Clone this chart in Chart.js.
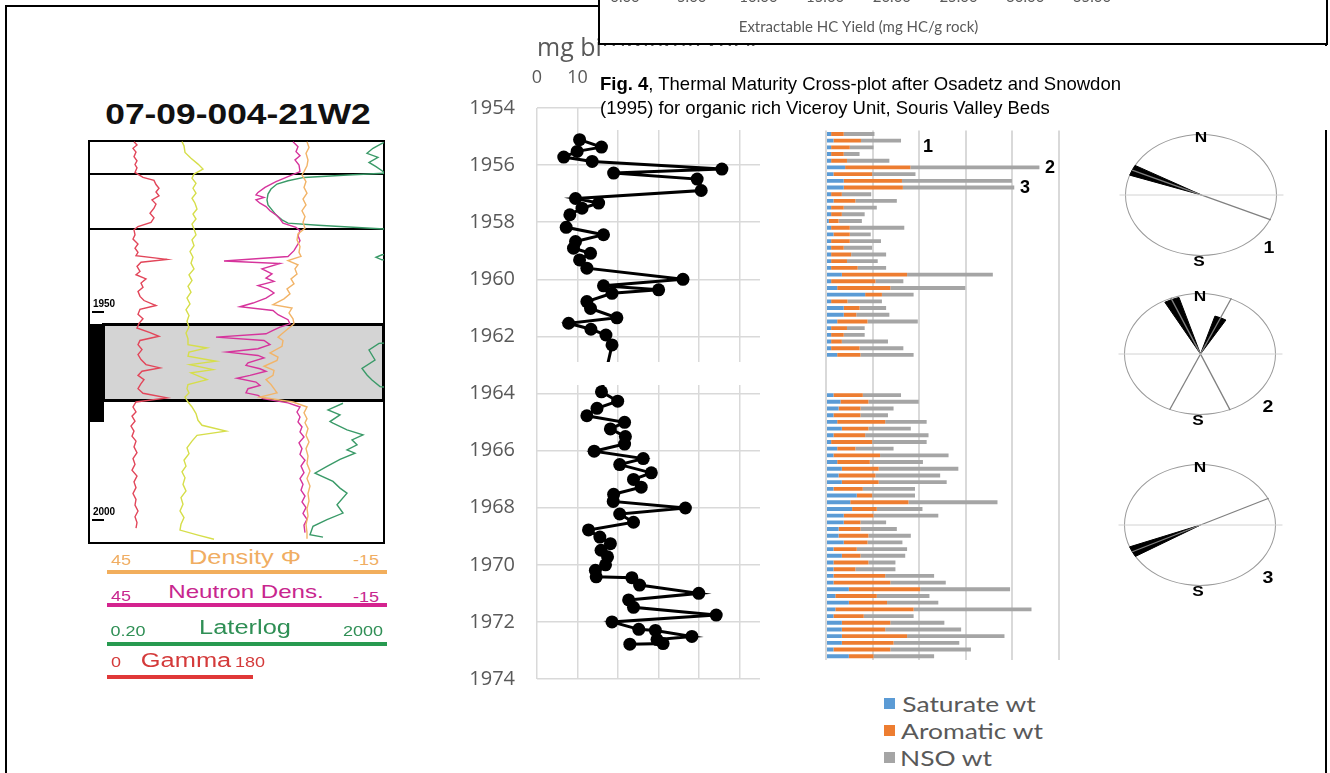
<!DOCTYPE html>
<html><head><meta charset="utf-8"><title>Viceroy Unit composite</title>
<script src="https://cdn.jsdelivr.net/npm/chart.js@4.4.1/dist/chart.umd.min.js"></script>
<style>
html,body{margin:0;padding:0;background:#fff;}
body{width:1330px;height:773px;overflow:hidden;position:relative;font-family:"Liberation Sans",Arial,sans-serif;}
.a{position:absolute;}
.t{position:absolute;white-space:nowrap;line-height:1;transform:translate(-50%,-50%) scaleX(var(--sx,1));}
canvas{position:absolute;display:block;}
</style></head>
<body>
<!-- outer frame -->
<div class="a" style="left:5px;top:5px;width:1322px;height:820px;border:2px solid #000;box-sizing:border-box;"></div>

<!-- well log panel -->
<div class="t" style="left:238px;top:114px;font-weight:bold;font-size:29px;--sx:1.22;color:#111">07-09-004-21W2</div>
<div class="a" style="left:88px;top:140px;width:297px;height:404px;border:2px solid #000;box-sizing:border-box;"></div>
<div class="a" style="left:88px;top:173px;width:297px;height:1.5px;background:#000"></div>
<div class="a" style="left:88px;top:228px;width:297px;height:1.5px;background:#000"></div>
<div class="a" style="left:102px;top:323px;width:283px;height:79px;background:#d4d4d4;border:3px solid #000;box-sizing:border-box;"></div>
<div class="a" style="left:88px;top:324px;width:16px;height:98px;background:#000"></div>
<canvas id="logc" width="296" height="403" style="left:88px;top:140px"></canvas>
<div class="t" style="left:104px;top:304px;font-size:10px;font-weight:bold">1950</div>
<div class="a" style="left:92px;top:311px;width:12px;height:1.5px;background:#000"></div>
<div class="t" style="left:104px;top:512px;font-size:10px;font-weight:bold">2000</div>
<div class="a" style="left:92px;top:519px;width:12px;height:1.5px;background:#000"></div>

<!-- log legend -->
<div class="t" style="left:121px;top:559px;font-size:15px;--sx:1.2;color:#f0ad62">45</div>
<div class="t" style="left:245px;top:557px;font-size:20px;--sx:1.27;color:#f0ad62">Density Φ</div>
<div class="t" style="left:366px;top:559px;font-size:15px;--sx:1.2;color:#f0ad62">-15</div>
<div class="a" style="left:107px;top:570px;width:280px;height:4px;background:#f2ae5c"></div>
<div class="t" style="left:121px;top:595px;font-size:15px;--sx:1.2;color:#c8268e">45</div>
<div class="t" style="left:246px;top:591px;font-size:19px;--sx:1.27;color:#c8268e">Neutron Dens.</div>
<div class="t" style="left:366px;top:596px;font-size:15px;--sx:1.2;color:#c8268e">-15</div>
<div class="a" style="left:107px;top:603px;width:280px;height:4px;background:#d4238f"></div>
<div class="t" style="left:128px;top:630px;font-size:15px;--sx:1.2;color:#2f8f55">0.20</div>
<div class="t" style="left:245px;top:627px;font-size:20px;--sx:1.27;color:#2f8f55">Laterlog</div>
<div class="t" style="left:363px;top:630px;font-size:15px;--sx:1.2;color:#2f8f55">2000</div>
<div class="a" style="left:107px;top:642px;width:280px;height:4px;background:#279a50"></div>
<div class="t" style="left:116px;top:661px;font-size:15px;--sx:1.2;color:#d43a3a">0</div>
<div class="t" style="left:186px;top:660px;font-size:20px;--sx:1.27;color:#d43a3a">Gamma</div>
<div class="t" style="left:250px;top:661px;font-size:15px;--sx:1.2;color:#d43a3a">180</div>
<div class="a" style="left:107px;top:675px;width:146px;height:4px;background:#e03838"></div>

<!-- bitumen scatter -->
<canvas id="bitc" width="340" height="683" style="left:440px;top:30px"></canvas>
<div class="a" style="left:539px;top:362px;width:232px;height:23px;background:#fff"></div>

<!-- SARA bars -->
<canvas id="barc" width="255" height="550" style="left:816px;top:120px"></canvas>
<div class="t" style="left:928px;top:146px;font-size:18px;font-weight:bold">1</div>
<div class="t" style="left:1050px;top:167px;font-size:18px;font-weight:bold">2</div>
<div class="t" style="left:1025px;top:187px;font-size:18px;font-weight:bold">3</div>
<div class="a" style="left:884px;top:698px;width:11px;height:11px;background:#5b9bd5"></div>
<div class="t" style="left:969px;top:704px;font-family:Lato;font-size:22px;--sx:1.2;color:#595959">Saturate wt</div>
<div class="a" style="left:884px;top:725px;width:11px;height:11px;background:#ed7d31"></div>
<div class="t" style="left:972px;top:731px;font-family:Lato;font-size:22px;--sx:1.2;color:#595959">Aromatic wt</div>
<div class="a" style="left:884px;top:752px;width:11px;height:11px;background:#a5a5a5"></div>
<div class="t" style="left:946px;top:758px;font-family:Lato;font-size:22px;--sx:1.2;color:#595959">NSO wt</div>

<!-- rose diagrams -->
<div id="roses"></div>

<!-- caption -->
<div class="a" style="left:603px;top:46px;width:727px;height:84px;background:#fff"></div>
<div class="a" style="left:600px;top:72px;font-size:18.5px;line-height:24px;color:#000;white-space:nowrap"><b>Fig. 4</b>, Thermal Maturity Cross-plot after Osadetz and Snowdon<br>(1995) for organic rich Viceroy Unit, Souris Valley Beds</div>

<!-- top-right cropped chart box -->
<div class="a" style="left:598px;top:-20px;width:730px;height:65px;border:2px solid #000;box-sizing:border-box;background:#fff"></div>
<canvas id="hcc" width="726" height="243" style="left:600px;top:-200px"></canvas>

<script>
// ================= DATA =================
// mg bitumen / g rock versus depth (m)
const bitumenDepth = [1955.11,1955.37,1955.52,1955.72,1955.87,1956.14,1956.28,1956.49,1956.89,1957.17,1957.33,1957.51,1957.74,1958.18,1958.44,1958.68,1958.91,1959.09,1959.32,1959.61,1960.00,1960.23,1960.37,1960.49,1960.78,1961.02,1961.35,1961.54,1961.75,1961.95,1962.30,
  1963.94,1964.27,1964.52,1964.78,1965.01,1965.24,1965.51,1965.77,1966.02,1966.28,1966.49,1966.78,1967.01,1967.28,1967.53,1967.78,1968.01,1968.22,1968.51,1968.78,1969.03,1969.26,1969.49,1969.72,1970.00,1970.19,1970.42,1970.45,1970.71,1971.00,1971.23,1971.49,1971.76,1972.00,1972.26,1972.30,1972.51,1972.62,1972.76,1972.78];
const bitumenMg = [10.5,15.9,9.9,6.6,13.6,45.6,18.9,39.5,40.5,9.5,15.2,11.1,8.1,7.2,16.4,9.5,9.0,13.2,10.5,12.3,36.0,16.4,30.0,18.5,12.3,13.2,19.7,7.8,13.3,17.0,18.5,
  15.9,19.9,14.8,12.3,21.6,18.1,21.8,21.6,14.1,26.2,20.4,28.2,23.8,25.7,18.9,18.8,36.6,20.4,23.8,12.7,15.5,18.1,15.8,17.4,16.9,14.4,14.6,23.4,25.3,39.9,22.6,23.8,44.2,18.5,25.1,29.2,38.2,29.6,31.1,22.9];
const depthTicks = [1954,1956,1958,1960,1962,1964,1966,1968,1970,1972,1974];
const mgTicks = [0,10,20,30,40,50];

// SARA fractions per sample (null = no sample)
const saturateWt = [1.1,1.6,1.1,1.1,1.1,4.1,1.6,3.8,3.8,1.1,1.6,1.1,1.1,0.6,1.1,1.6,1.1,1.1,1.1,1.1,1.1,3.4,1.1,2.4,8.4,1.1,3.8,3.8,2.4,1.1,1.1,1.1,1.1,2.4,
  null,null,null,null,null,
  1.6,3.1,2.7,1.6,2.4,3.4,1.6,1.1,2.4,1.6,2.4,3.4,2.7,3.4,1.6,6.6,5.2,5.6,3.8,3.8,2.7,2.7,3.8,1.6,3.4,1.6,1.6,1.6,1.6,4.9,2.0,4.9,2.0,1.6,3.4,3.4,3.4,3.4,1.6,4.9];
const aromaticWt = [2.7,5.9,4.0,2.7,3.4,14.0,8.3,12.5,12.7,2.3,4.7,2.7,2.3,2.1,4.0,3.5,4.0,2.7,4.3,3.4,5.7,14.0,9.5,11.4,3.6,3.5,3.4,2.7,6.5,3.4,2.7,2.3,6.1,5.0,
  null,null,null,null,null,
  6.3,6.0,4.7,5.8,10.3,5.7,6.8,8.8,3.9,10.0,7.0,7.9,7.9,7.9,6.3,3.3,12.5,5.3,6.4,3.6,4.7,6.4,5.1,5.0,4.0,7.5,4.7,11.1,12.2,15.3,8.9,8.2,16.8,6.5,10.4,9.3,14.0,11.1,12.2,5.3];
const nsoWt = [6.6,8.6,5.1,3.4,9.1,27.7,9.3,23.6,23.9,6.3,8.9,7.1,4.9,5.0,11.7,4.5,6.7,6.1,7.5,6.6,6.1,18.4,6.0,16.1,6.8,7.4,5.7,7.1,10.8,3.8,4.5,9.9,9.4,11.4,
  null,null,null,null,null,
  8.2,10.8,7.1,5.9,8.9,9.1,13.6,11.7,8.2,14.7,11.4,17.1,13.9,14.6,11.2,9.2,19.1,9.8,13.9,5.5,7.8,9.1,7.5,10.8,9.6,5.8,8.6,10.5,11.9,19.3,11.3,11.0,25.3,10.7,11.6,16.3,20.9,14.1,17.3,13.0];
const saraTicks = [0,10,20,30,40,50];

// cropped cross-plot axis
const hcYieldTicks = [0,5,10,15,20,25,30,35];

// well log traces: [track position, depth m]
const gammaLog = [[46,1910.0],[49,1910.8],[45,1911.6],[48,1912.5],[46,1913.6],[49,1914.6],[47,1915.5],[49,1916.3],[47,1917.4],[55,1918.6],[66,1919.3],[68,1920.3],[71,1921.2],[68,1922.1],[71,1923.0],[64,1924.0],[68,1925.0],[66,1926.0],[62,1927.2],[66,1928.3],[63,1929.4],[50,1930.4],[46,1931.2],[47,1932.4],[45,1933.4],[50,1934.6],[47,1935.6],[50,1936.6],[48,1937.4],[79,1938.3],[53,1939.0],[49,1940.0],[52,1941.2],[48,1942.0],[58,1943.0],[53,1944.0],[55,1945.0],[50,1946.0],[52,1947.2],[56,1948.2],[68,1949.4],[52,1950.3],[50,1951.5],[55,1952.6],[51,1953.7],[49,1954.8],[62,1955.9],[71,1956.8],[52,1957.8],[50,1958.8],[54,1960.0],[50,1961.2],[53,1962.4],[58,1963.6],[72,1964.4],[54,1965.2],[50,1966.2],[56,1967.2],[53,1968.2],[50,1969.4],[55,1970.5],[79,1971.6],[48,1972.6],[45,1973.8],[48,1975.0],[44,1976.0],[47,1977.2],[43,1978.4],[46,1979.6],[44,1980.8],[48,1982.0],[46,1983.4],[49,1984.8],[45,1986.2],[47,1987.6],[44,1989.0],[49,1990.4],[46,1991.8],[48,1993.2],[45,1994.6],[48,1996.0],[47,1997.4],[50,1998.8],[47,2000.2],[49,2001.6],[48,2002.9]];
const yellowLog = [[94,1910.0],[96,1911.0],[97,1912.6],[103,1914.0],[110,1915.4],[115,1916.6],[106,1917.8],[104,1918.8],[108,1920.0],[105,1921.2],[108,1922.4],[104,1923.6],[107,1924.8],[109,1926.2],[105,1927.4],[108,1928.6],[104,1929.8],[106,1931.0],[108,1932.4],[104,1933.6],[106,1935.0],[102,1936.4],[105,1937.8],[103,1939.2],[106,1940.6],[101,1942.0],[104,1943.4],[100,1944.8],[103,1946.2],[99,1947.6],[102,1949.0],[98,1950.4],[101,1951.8],[99,1953.2],[101,1954.6],[98,1956.0],[100,1957.4],[100,1958.8],[119,1959.6],[101,1960.6],[100,1961.6],[128,1962.8],[102,1963.6],[125,1964.8],[103,1965.6],[119,1967.2],[100,1968.4],[99,1969.4],[101,1970.4],[97,1971.4],[100,1972.6],[104,1973.8],[108,1975.4],[110,1977.0],[114,1978.2],[138,1979.6],[109,1980.6],[104,1982.0],[99,1983.6],[101,1985.0],[96,1986.6],[98,1988.0],[94,1989.4],[97,1990.8],[95,1992.4],[98,1994.0],[93,1995.6],[95,1997.2],[92,1998.8],[96,2000.4],[93,2002.0],[92,2003.4],[110,2004.6],[126,2005.6]];
const neutronLog = [[205,1910.0],[210,1911.2],[208,1912.4],[212,1913.4],[207,1914.4],[211,1915.6],[212,1917.2],[200,1918.4],[188,1919.6],[177,1921.0],[170,1922.2],[168,1922.8],[176,1923.4],[168,1924.0],[172,1924.8],[178,1925.6],[182,1926.6],[188,1927.6],[192,1928.6],[195,1929.6],[208,1930.6],[212,1931.4],[210,1932.6],[212,1933.8],[209,1935.0],[206,1936.2],[200,1937.6],[136,1938.7],[192,1939.3],[174,1940.6],[184,1941.8],[178,1942.8],[186,1943.6],[170,1944.6],[180,1945.4],[186,1946.4],[178,1947.6],[165,1948.8],[152,1949.7],[185,1950.6],[190,1951.6],[200,1952.8],[202,1953.8],[192,1954.6],[185,1955.4],[178,1956.2],[128,1957.0],[176,1957.8],[182,1958.8],[170,1959.8],[139,1960.6],[170,1961.4],[176,1962.0],[160,1963.2],[158,1963.8],[172,1964.6],[178,1965.2],[162,1966.2],[149,1966.9],[168,1967.8],[172,1968.6],[160,1969.4],[158,1970.4],[170,1971.0],[175,1971.8],[200,1972.8],[212,1973.8],[209,1975.0],[212,1976.2],[210,1977.4],[214,1978.6],[212,1979.8],[216,1981.0],[211,1982.4],[214,1983.8],[212,1985.2],[217,1986.6],[213,1988.0],[216,1989.6],[212,1991.0],[215,1992.4],[213,1993.8],[217,1995.2],[214,1996.6],[218,1998.0],[215,1999.4],[219,2000.8],[216,2002.2],[217,2004.0]];
const densityLog = [[219,1910.0],[221,1911.4],[218,1912.8],[220,1914.4],[219,1915.8],[216,1917.2],[214,1918.0],[218,1919.6],[216,1921.0],[219,1922.4],[215,1923.8],[218,1925.2],[214,1926.6],[217,1928.0],[215,1929.4],[217,1930.8],[210,1932.2],[209,1933.6],[212,1935.2],[211,1936.6],[213,1937.6],[200,1938.6],[210,1939.6],[207,1940.6],[209,1941.8],[203,1943.0],[206,1944.2],[199,1945.4],[202,1946.6],[196,1947.8],[185,1949.2],[204,1950.0],[201,1951.2],[205,1952.6],[206,1953.8],[200,1955.0],[194,1956.2],[190,1957.0],[195,1957.8],[194,1959.2],[182,1960.8],[190,1961.8],[189,1962.6],[176,1964.0],[186,1965.0],[185,1966.2],[178,1967.2],[183,1968.4],[186,1969.4],[189,1970.4],[172,1971.4],[205,1972.6],[219,1973.8],[216,1975.2],[219,1976.6],[217,1977.6],[220,1979.0],[218,1980.6],[221,1982.2],[218,1983.8],[220,1985.6],[219,1987.4],[222,1989.2],[219,1991.0],[222,1992.8],[220,1994.6],[221,1996.4],[219,1998.2],[220,2000.0],[218,2002.0],[219,2004.0],[219,2005.5]];
const laterlogLog = [[300,1909.8],[294,1910.4],[285,1911.6],[279,1912.8],[290,1913.8],[281,1915.0],[288,1916.0],[294,1917.0],[297,1917.6],[260,1918.0],[216,1918.6],[200,1919.4],[189,1920.2],[183,1921.4],[180,1922.6],[179,1924.0],[180,1925.2],[184,1926.4],[188,1927.6],[194,1928.8],[200,1929.6],[230,1930.1],[297,1931.0],[330,1931.6],[330,1936.6],[294,1937.2],[288,1937.8],[294,1938.4],[330,1939.0],[330,1957.8],[291,1958.5],[281,1960.1],[287,1962.5],[274,1964.5],[279,1966.1],[284,1967.3],[292,1968.9],[330,1969.6],null,[255,1972.9],[240,1974.5],[252,1975.7],[242,1977.3],[245,1977.7],[259,1979.3],[275,1980.5],[264,1981.7],[269,1982.9],[259,1984.1],[267,1984.9],[252,1986.4],[239,1988.1],[227,1989.7],[245,1991.7],[252,1993.3],[259,1994.5],[249,1997.3],[255,1999.3],[239,2000.9],[225,2002.5],[222,2004.5],[235,2005.1]];

// rose diagrams: petal azimuth (deg), petal width (deg), petal length (fraction of radius)
const roseAzimuth = [[294],[337,24],[244]];
const rosePetalWidth = [[10],[12,14],[10]];
const rosePetalLength = [[1.0],[0.97,0.65],[1.0]];
const roseLabels = ['1','2','3'];

// ================= CHARTS =================
Chart.defaults.animation = false;
Chart.defaults.events = [];
const noPlug = {legend:{display:false}, tooltip:{enabled:false}};
const GRID = '#d9d9d9';

// bitumen depth profile
new Chart(document.getElementById('bitc'), {
  type:'scatter',
  data:{datasets:[{
    data: bitumenDepth.map((d,i)=>({x:bitumenMg[i], y:d})),
    showLine:true, borderColor:'#000', backgroundColor:'#000', borderWidth:3,
    pointRadius:6.5, pointHoverRadius:6.5, pointBorderWidth:0, clip:false
  }]},
  options:{
    responsive:false,
    layout:{padding:{left:0,right:20,top:0,bottom:9}},
    plugins:noPlug,
    scales:{
      x:{type:'linear', position:'top', min:0, max:55,
         afterBuildTicks:s=>{s.ticks = mgTicks.map(v=>({value:v}));},
         afterFit:s=>{s.height = 78;},
         ticks:{color:'#595959', font:{family:'Open Sans', size:18}, padding:19},
         grid:{color:GRID, lineWidth:1.5, drawTicks:false}, border:{display:false},
         title:{display:true, text:'mg bitumen/g rock', align:'start', color:'#595959',
                font:{family:'Open Sans', size:25}, padding:{top:4,bottom:0}}},
      y:{type:'linear', min:1954, max:1974, reverse:true,
         afterBuildTicks:s=>{s.ticks = depthTicks.map(v=>({value:v}));},
         afterFit:s=>{s.width = 97;},
         ticks:{color:'#595959', font:{family:'Open Sans', size:20}, padding:22, callback:v=>String(v)},
         grid:{color:GRID, lineWidth:1.5, drawTicks:false}, border:{display:false}}
    }
  }
});

// SARA stacked bars
const barSamples = saturateWt.map((_,i)=>'S'+(i+1));
new Chart(document.getElementById('barc'), {
  type:'bar',
  data:{labels:barSamples, datasets:[
    {label:'Saturate wt', data:saturateWt, backgroundColor:'#5b9bd5'},
    {label:'Aromatic wt', data:aromaticWt, backgroundColor:'#ed7d31'},
    {label:'NSO wt', data:nsoWt, backgroundColor:'#a5a5a5'}
  ]},
  options:{
    indexAxis:'y', responsive:false,
    datasets:{bar:{barPercentage:0.58, categoryPercentage:1, borderWidth:0}},
    layout:{padding:{left:10,right:12,top:10.6,bottom:10.4}},
    plugins:noPlug,
    scales:{
      x:{stacked:true, min:0, max:50,
         afterBuildTicks:s=>{s.ticks = saraTicks.map(v=>({value:v}));},
         afterFit:s=>{s.height = 0;},
         ticks:{display:false}, grid:{color:GRID, lineWidth:2, drawTicks:false}, border:{display:false}},
      y:{stacked:true, display:false}
    }
  }
});

// cropped thermal maturity cross-plot axis
new Chart(document.getElementById('hcc'), {
  type:'scatter',
  data:{datasets:[{data:[]}]},
  options:{
    responsive:false,
    layout:{padding:{left:25,right:234,top:0,bottom:0}},
    plugins:noPlug,
    scales:{
      x:{type:'linear', min:0, max:35,
         afterBuildTicks:s=>{s.ticks = hcYieldTicks.map(v=>({value:v}));},
         ticks:{color:'#595959', font:{family:'Lato', size:15}, padding:3, callback:v=>Number(v).toFixed(2)},
         grid:{display:false, drawTicks:false}, border:{display:false},
         title:{display:true, text:'Extractable HC Yield (mg HC/g rock)', color:'#595959',
                font:{family:'Lato', size:15}, padding:{top:9,bottom:7}}},
      y:{display:false, min:0, max:1}
    }
  }
});

// well log
const toPts = arr => arr.map(p => p ? {x:p[0], y:p[1]} : {x:null, y:null});
const logTrace = (arr, color) => ({data:toPts(arr), showLine:true, borderColor:color, borderWidth:1.4,
  pointRadius:0, spanGaps:false, clip:0});
new Chart(document.getElementById('logc'), {
  type:'scatter',
  data:{datasets:[
    logTrace(gammaLog, '#e2465a'),
    logTrace(yellowLog, '#d6de4a'),
    logTrace(densityLog, '#f2b468'),
    logTrace(neutronLog, '#d6349c'),
    logTrace(laterlogLog, '#3a9a68')
  ]},
  options:{
    responsive:false, layout:{padding:0}, plugins:noPlug,
    scales:{
      x:{display:false, min:0, max:296},
      y:{display:false, min:1909.6, max:2006.5, reverse:true}
    }
  }
});

// rose diagrams
const roseCenters = [[1201,195],[1200,354],[1200,525]];
const RX = 76, RY = 61;
const rosesDiv = document.getElementById('roses');
roseAzimuth.forEach((azs, k) => {
  const [cx, cy] = roseCenters[k];
  const ell = document.createElement('div');
  ell.className = 'a';
  ell.style.cssText = `left:${cx-RX}px;top:${cy-RY}px;width:${2*RX}px;height:${2*RY}px;border:1.5px solid #9a9a9a;border-radius:50%;box-sizing:border-box;background:#fff`;
  rosesDiv.appendChild(ell);
  const cv = document.createElement('canvas');
  const W = Math.round(2*RX*1.1), H = 2*RY;
  cv.width = W; cv.height = H;
  cv.style.left = (cx - W/2) + 'px'; cv.style.top = (cy - RY) + 'px';
  rosesDiv.appendChild(cv);
  const ds = [{data:[{x:-1.08,y:0},{x:1.08,y:0}], showLine:true, borderColor:'#d2d2d2', borderWidth:1, pointRadius:0}];
  azs.forEach((az, j) => {
    const r = az*Math.PI/180;
    ds.push({data:[{x:Math.sin(r), y:Math.cos(r)},{x:-Math.sin(r), y:-Math.cos(r)}], showLine:true,
             borderColor:'#808080', borderWidth:1.3, pointRadius:0});
    const L = rosePetalLength[k][j], w = rosePetalWidth[k][j];
    const pts = [{x:0,y:0}];
    [az - w/2, az, az + w/2].forEach(a => { const t = a*Math.PI/180; pts.push({x:L*Math.sin(t), y:L*Math.cos(t)}); });
    pts.push({x:0,y:0});
    ds.push({data:pts, showLine:true, borderColor:'#000', backgroundColor:'#000', borderWidth:1, pointRadius:0, fill:'shape'});
  });
  new Chart(cv, {type:'scatter', data:{datasets:ds},
    options:{responsive:false, layout:{padding:0}, plugins:noPlug,
      scales:{x:{display:false, min:-1.1, max:1.1}, y:{display:false, min:-1, max:1}}}});
  const mk = (txt, x, y, size) => { const d = document.createElement('div'); d.className='t';
    d.style.cssText = `left:${x}px;top:${y}px;font-size:${size}px;font-weight:bold;--sx:1.15`; d.textContent = txt; rosesDiv.appendChild(d); };
  mk('N', cx, cy - RY + 2, 15);
  mk('S', cx - 2, cy + RY + 4, 15);
  mk(roseLabels[k], cx + 68, cy + 52, 17);
});
</script>
</body></html>
